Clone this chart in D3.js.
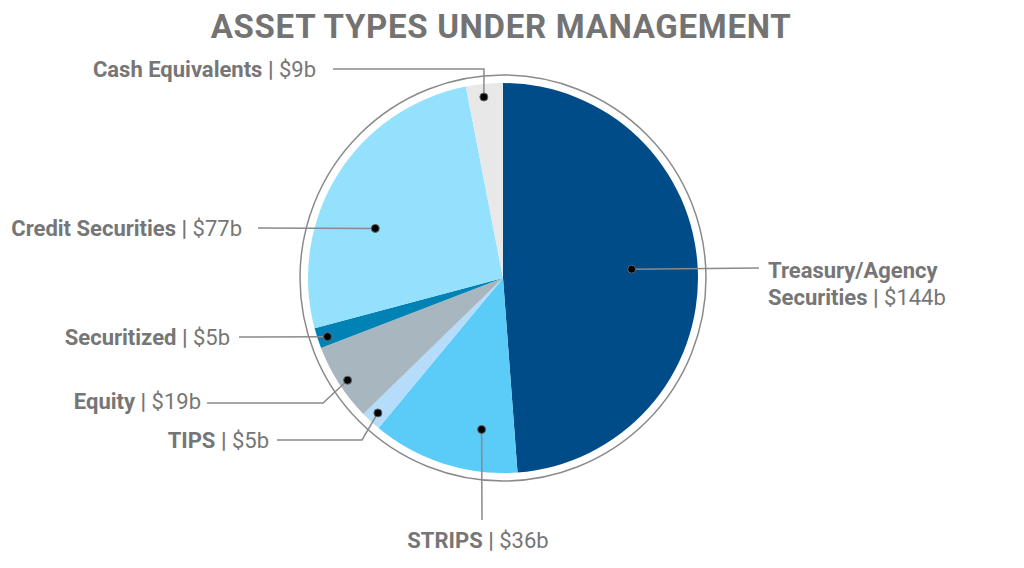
<!DOCTYPE html>
<html>
<head>
<meta charset="utf-8">
<script src="https://cdn.jsdelivr.net/npm/d3@7"></script>
<style>
  body { margin: 0; background: #fff; }
  svg text { font-family: "Liberation Sans Narrow", "Arial Narrow", "Roboto", sans-serif; fill: #767676; }
</style>
</head>
<body>
<svg id="chart" width="1024" height="568"></svg>
<script>
// asset types, clockwise from 12 o'clock
var categories = ['Treasury/Agency Securities', 'STRIPS', 'TIPS', 'Equity', 'Securitized', 'Credit Securities', 'Cash Equivalents'];
var values = [144, 36, 5, 19, 5, 77, 9];
var valueLabels = ['$144b', '$36b', '$5b', '$19b', '$5b', '$77b', '$9b'];
var colors = ['#004c89', '#5accf7', '#b5dcfa', '#a8b6bf', '#0083b4', '#94e1fd', '#e8e8e8'];

// where the dot sits inside its slice (t = fraction of the slice angle, r = radius)
// and where the callout text goes
var callouts = [
    { t: 0.49, r: 129, text: [768, 278], anchor: 'start', lines: ['Treasury/Agency', 'Securities'], path: [[759, 268]] },
    { t: 0.28, r: 153, text: [478, 548], anchor: 'middle', path: [[482, 520]] },
    { t: 0.52, r: 184, text: [269, 448], anchor: 'end', path: [[362, 440], [277, 440]] },
    { t: 0.47, r: 186, text: [201, 409], anchor: 'end', path: [[323, 403], [207, 403]] },
    { t: 0.42, r: 185, text: [230, 345], anchor: 'end', path: [[239, 337]] },
    { t: 0.385, r: 137, text: [242, 236], anchor: 'end', path: [[258, 228]] },
    { t: 0.45, r: 182, text: [316, 77], anchor: 'end', path: [[484, 69], [333, 69]] }
];

var cx = 503, cy = 278, radius = 195;

var svg = d3.select('#chart');

svg.append('text')
    .attr('x', 501)
    .attr('y', 38)
    .attr('text-anchor', 'middle')
    .style('font-size', '33px')
    .style('font-weight', 'bold')
    .style('letter-spacing', '0.7px')
    .style('fill', '#737373')
    .text('ASSET TYPES UNDER MANAGEMENT');

var g = svg.append('g').attr('transform', 'translate(' + cx + ',' + cy + ')');

var pie = d3.pie().sort(null).value(function(d) { return d; });
var arcs = pie(values);
var arc = d3.arc().innerRadius(0).outerRadius(radius);

g.append('circle')
    .attr('r', radius + 8)
    .attr('fill', 'none')
    .attr('stroke', '#8a8a8a')
    .attr('stroke-width', 1.5);

g.selectAll('path.slice')
    .data(arcs)
    .enter()
    .append('path')
    .attr('class', 'slice')
    .attr('d', arc)
    .attr('fill', function(d, i) { return colors[i]; });

/* leader lines and dots */
arcs.forEach(function(d, i) {
    var c = callouts[i],
        a = d.startAngle + (d.endAngle - d.startAngle) * c.t,
        dot = [cx + c.r * Math.sin(a), cy - c.r * Math.cos(a)];

    var pts = [dot].concat(c.path);
    svg.append('path')
        .attr('d', d3.line()(pts))
        .attr('fill', 'none')
        .attr('stroke', '#8a8a8a')
        .attr('stroke-width', 1.5);

    svg.append('circle')
        .attr('cx', dot[0])
        .attr('cy', dot[1])
        .attr('r', 4)
        .attr('fill', '#000')
        .attr('stroke', '#666')
        .attr('stroke-width', 1);

    var lines = c.lines || [categories[i]];
    var text = svg.append('text')
        .attr('x', c.text[0])
        .attr('y', c.text[1])
        .attr('text-anchor', c.anchor)
        .style('font-size', '22px');

    lines.forEach(function(line, j) {
        text.append('tspan')
            .attr('x', c.text[0])
            .attr('dy', j === 0 ? 0 : 27)
            .style('font-weight', 'bold')
            .text(line);
        if (j === lines.length - 1) {
            text.append('tspan').style('font-weight', 'bold').text(' | ');
            text.append('tspan').text(valueLabels[i]);
        }
    });
});
</script>
</body>
</html>
